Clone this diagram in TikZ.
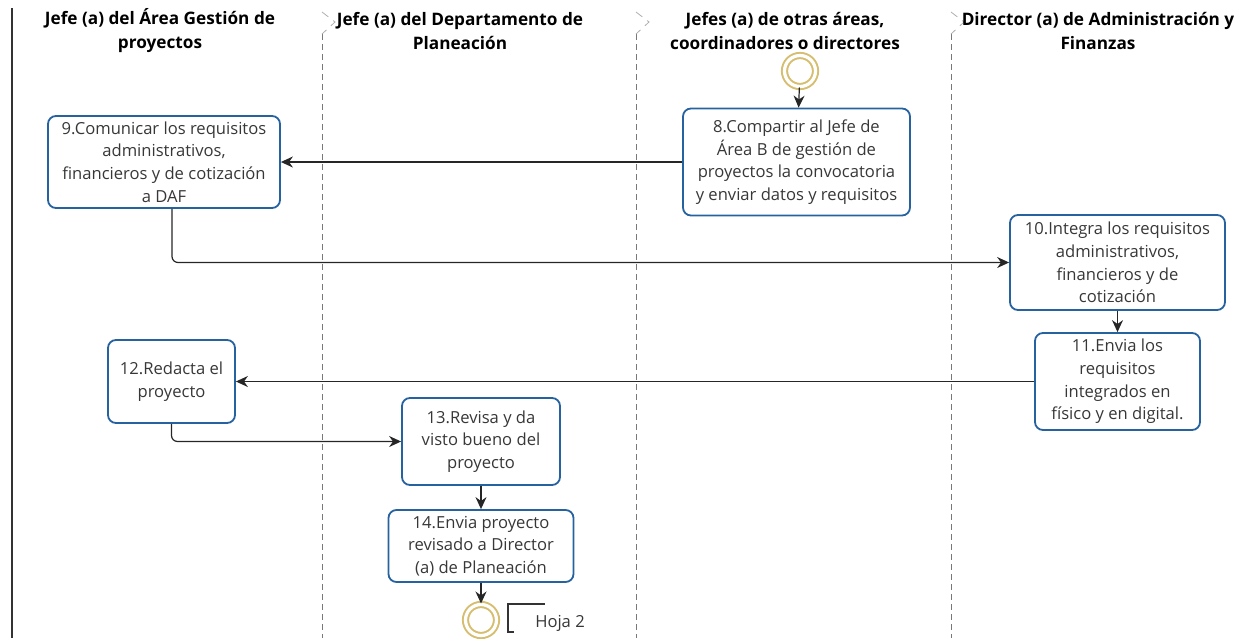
\documentclass[tikz,border=0pt]{standalone}
\usepackage{fontspec}
\setmainfont{Open Sans}
\usetikzlibrary{arrows.meta}
\definecolor{azulcaja}{RGB}{38,98,160}
\definecolor{oro}{RGB}{214,190,112}
\definecolor{grislinea}{RGB}{120,120,120}
\definecolor{gristexto}{RGB}{55,55,55}
\tikzset{
  tarea/.style={draw=azulcaja, line width=0.9pt, rounded corners=4pt, align=center,
    text=gristexto, font=\fontsize{8.3}{11.3}\selectfont, inner sep=1pt},
  flecha/.style={-{Stealth[length=6pt,width=5.5pt]}, line width=0.6pt, draw=black!85},
  evento/.style={circle, draw=oro, line width=1pt, double=white, double distance=1.6pt,
    minimum size=15.5pt, inner sep=0pt},
  encabezado/.style={align=center, font=\bfseries\fontsize{8.6}{12}\selectfont}
}
\newcommand{\separador}[1]{
  \draw[grislinea, dashed, dash pattern=on 3pt off 2pt, line width=0.4pt] (#1,34) -- (#1,638);
  \draw[grislinea!60, dash pattern=on 4pt off 3pt, line width=0.4pt] (#1,12) -- (#1+13,22) -- (#1,34);
}

\begin{document}
\begin{tikzpicture}[x=0.5pt,y=-0.5pt]
  \useasboundingbox (0,0) rectangle (1253,638);
  \draw[black!80, line width=0.8pt] (12,8) -- (12,638);
  \foreach \x in {322,636,951}{
    \separador{\x}
  }

  \node[encabezado] (c1) at (160,31) {Jefe (a) del Área Gestión de\\proyectos};
  \node[encabezado] (c2) at (460,31) {Jefe (a) del Departamento de\\Planeación};
  \node[encabezado] (c3) at (785,31) {Jefes (a) de otras áreas,\\coordinadores o directores};
  \node[encabezado] (c4) at (1098,31) {Director (a) de Administración y\\Finanzas};

  \node[evento] (ini) at (800,71) {};
  \node[tarea, minimum width=113.5pt, minimum height=53.5pt] (t8) at (796.5,162)
    {8.Compartir al Jefe de\\Área B de gestión de\\proyectos la convocatoria\\y enviar datos y requisitos};
  \node[tarea, minimum width=116pt, minimum height=46pt] (t9) at (164,162)
    {9.Comunicar los requisitos\\administrativos,\\financieros y de cotización\\a DAF};
  \node[tarea, minimum width=107.5pt, minimum height=47.5pt] (t10) at (1117.5,262.5)
    {10.Integra los requisitos\\administrativos,\\financieros y de\\cotización};
  \node[tarea, minimum width=82.5pt, minimum height=48.5pt] (t11) at (1117.5,381.5)
    {11.Envia los\\requisitos\\integrados en\\físico y en digital.};
  \node[tarea, minimum width=63.5pt, minimum height=41.5pt] (t12) at (171.5,381.5)
    {12.Redacta el\\proyecto};
  \node[tarea, minimum width=79pt, minimum height=43.5pt] (t13) at (481,441.5)
    {13.Revisa y da\\visto bueno del\\proyecto};
  \node[tarea, minimum width=92.5pt, minimum height=36pt] (t14) at (481,546)
    {14.Envia proyecto\\revisado a Director\\(a) de Planeación};
  \node[evento] (fin) at (481,620) {};
  \node[font=\fontsize{8.3}{10}\selectfont, text=gristexto] (hoja) at (560,623) {Hoja 2};
  \draw[black!80, line width=0.6pt] (545,604) -| (508,632) -- (514,632);

  \draw[flecha] (ini) -- (t8);
  \draw[flecha] (t8) -- (t9);
  \draw[flecha, rounded corners=3pt] ([xshift=4pt]t9.south) |- (t10.west);
  \draw[flecha] (t10) -- (t11);
  \draw[flecha] (t11) -- (t12);
  \draw[flecha, rounded corners=3pt] (t12.south) |- (t13.west);
  \draw[flecha] (t13) -- (t14);
  \draw[flecha] (t14) -- (fin);
\end{tikzpicture}
\end{document}
